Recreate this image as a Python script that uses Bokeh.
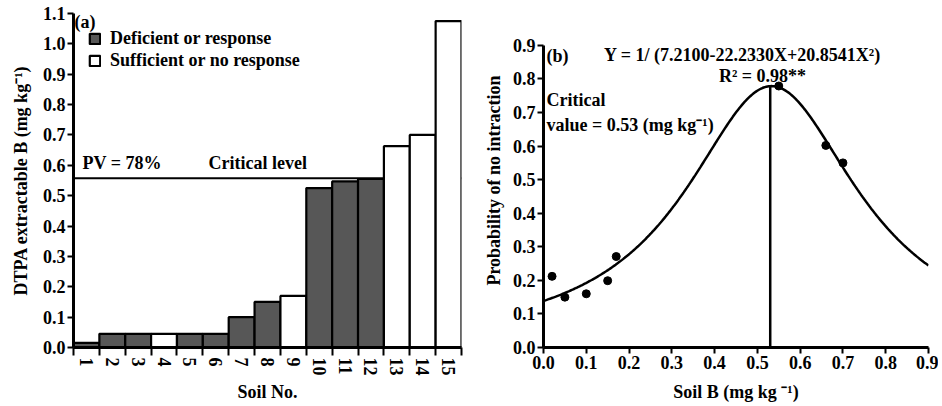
import numpy as np
from bokeh.plotting import figure
from bokeh.layouts import row
from bokeh.models import Range1d, FixedTicker, Label, Span, ColumnDataSource, NumeralTickFormatter
from bokeh.transform import factor_cmap
from bokeh.embed import file_html
from bokeh.resources import INLINE

FONT = "Liberation Serif"

# ---------------- Panel (a) data ----------------
soil_no = list(range(1, 16))
dtpa_b = [0.015, 0.045, 0.045, 0.045, 0.045, 0.045, 0.10, 0.15, 0.17,
          0.525, 0.547, 0.555, 0.663, 0.70, 1.075]
DEF = "Deficient or response"
SUF = "Sufficient or no response"
response = [DEF, DEF, DEF, SUF, DEF, DEF, DEF, DEF, SUF,
            DEF, DEF, DEF, SUF, SUF, SUF]
response_groups = [DEF, SUF]
response_colors = ["#575757", "white"]
critical_level = 0.557
y_ticks_a = [0.0, 0.1, 0.2, 0.3, 0.4, 0.5, 0.6, 0.7, 0.8, 0.9, 1.0, 1.1]

# ---------------- Panel (b) data ----------------
soil_b = [0.02, 0.05, 0.10, 0.15, 0.17, 0.55, 0.66, 0.70]
prob_no_interaction = [0.212, 0.150, 0.160, 0.199, 0.271, 0.779, 0.602, 0.550]
coef_a, coef_b, coef_c = 7.2100, -22.2330, 20.8541
critical_value = 0.53
x_ticks_b = [0.0, 0.1, 0.2, 0.3, 0.4, 0.5, 0.6, 0.7, 0.8, 0.9]
y_ticks_b = [0.0, 0.1, 0.2, 0.3, 0.4, 0.5, 0.6, 0.7, 0.8, 0.9]


def fit(x):
    return 1.0 / (coef_a + coef_b * x + coef_c * x ** 2)


def style(p):
    for ax in (p.xaxis[0], p.yaxis[0]):
        ax.axis_line_width = 3
        ax.axis_line_color = "black"
        ax.major_tick_line_width = 2
        ax.major_tick_in = 0
        ax.major_tick_out = 6
        ax.minor_tick_line_color = None
        ax.major_label_text_font = FONT
        ax.major_label_text_font_style = "bold"
        ax.major_label_text_font_size = "18px"
        ax.major_label_text_color = "black"
        ax.axis_label_text_font = FONT
        ax.axis_label_text_font_style = "bold"
        ax.axis_label_text_font_size = "18px"
        ax.axis_label_text_color = "black"
        ax.major_label_standoff = 2
        ax.axis_label_standoff = 3
    p.xgrid.visible = False
    p.ygrid.visible = False
    p.outline_line_color = None
    p.background_fill_color = "white"
    p.border_fill_color = "white"


def label(p, x, y, text, align="left"):
    p.add_layout(Label(x=x, y=y, text=text, text_font=FONT, text_font_style="bold",
                       text_font_size="18px", text_baseline="middle", text_align=align,
                       text_color="black"))


H = 404
TOP = 13
BOTTOM = 55

# ---------------- Panel (a) ----------------
pa = figure(width=480, height=H, x_range=Range1d(0.5, 15.5), y_range=Range1d(0, 1.1),
            output_backend="svg", toolbar_location=None, title=None,
            min_border_left=73, min_border_right=19, min_border_top=TOP, min_border_bottom=BOTTOM)
src_a = ColumnDataSource(dict(soil=soil_no, b=dtpa_b, response=response))
pa.add_layout(Span(location=critical_level, dimension="width", line_color="black",
                   line_width=2, level="underlay"))
pa.vbar(x="soil", top="b", bottom=0, width=1, source=src_a,
        fill_color=factor_cmap("response", response_colors, response_groups),
        line_color="black", line_width=2.2, legend_field="response")
style(pa)
boundaries = [n - 0.5 for n in soil_no] + [soil_no[-1] + 0.5]
pa.xaxis[0].ticker = FixedTicker(ticks=soil_no, minor_ticks=boundaries)
pa.xaxis[0].major_tick_out = 0
pa.xaxis[0].minor_tick_line_color = "black"
pa.xaxis[0].minor_tick_line_width = 2
pa.xaxis[0].minor_tick_in = 0
pa.xaxis[0].minor_tick_out = 8
pa.xaxis[0].major_label_orientation = "vertical"
pa.xaxis[0].axis_label = "Soil No."
pa.yaxis[0].ticker = FixedTicker(ticks=y_ticks_a)
pa.yaxis[0].formatter = NumeralTickFormatter(format="0.0")
pa.yaxis[0].axis_label = "DTPA extractable B (mg kg\u207b\u00b9)"
pa.yaxis[0].axis_label_standoff = 9

lg = pa.legend[0]
lg.location = "top_left"
lg.margin = 15
lg.padding = 19
lg.spacing = 1
lg.glyph_width = 13
lg.glyph_height = 13
lg.label_standoff = 9
lg.label_height = 21
lg.background_fill_alpha = 0
lg.border_line_color = None
lg.label_text_font = FONT
lg.label_text_font_style = "bold"
lg.label_text_font_size = "18px"
lg.label_text_color = "black"

label(pa, 0.54, 1.072, "(a)")
label(pa, 0.85, 0.606, "PV = 78%")
label(pa, 5.72, 0.606, "Critical level")

# ---------------- Panel (b) ----------------
# frame shares the top/bottom of panel (a); the y axis line itself stops at 0.9
pb = figure(width=458, height=H, x_range=Range1d(0, 0.9), y_range=Range1d(0, 0.995),
            output_backend="svg", toolbar_location=None, title=None,
            min_border_left=61, min_border_right=10, min_border_top=TOP, min_border_bottom=BOTTOM)
xs = np.linspace(0, 0.9, 300)
pb.line(xs, fit(xs), line_color="black", line_width=2.5)
pb.segment(x0=[critical_value], y0=[0], x1=[critical_value], y1=[fit(critical_value)],
           line_color="black", line_width=2.5)
pb.scatter(soil_b, prob_no_interaction, size=8, fill_color="black", line_color="black")
style(pb)
pb.xaxis[0].ticker = FixedTicker(ticks=x_ticks_b)
pb.xaxis[0].formatter = NumeralTickFormatter(format="0.0")
pb.xaxis[0].axis_label = "Soil B (mg kg \u207b\u00b9)"
pb.xaxis[0].axis_label_standoff = 10
pb.yaxis[0].ticker = FixedTicker(ticks=y_ticks_b)
pb.yaxis[0].formatter = NumeralTickFormatter(format="0.0")
pb.yaxis[0].bounds = (0, 0.9)
pb.yaxis[0].axis_label = "Probability of no intraction"
pb.yaxis[0].axis_label_standoff = 6

label(pb, 0.007, 0.867, "(b)")
label(pb, 0.465, 0.870, "Y = 1/ (7.2100-22.2330X+20.8541X\u00b2)", align="center")
label(pb, 0.512, 0.808, "R\u00b2 = 0.98**", align="center")
label(pb, 0.007, 0.737, "Critical")
label(pb, 0.007, 0.663, "value = 0.53 (mg kg\u207b\u00b9)")

layout = row(pa, pb)
open("out.html", "w").write(file_html(layout, INLINE))
